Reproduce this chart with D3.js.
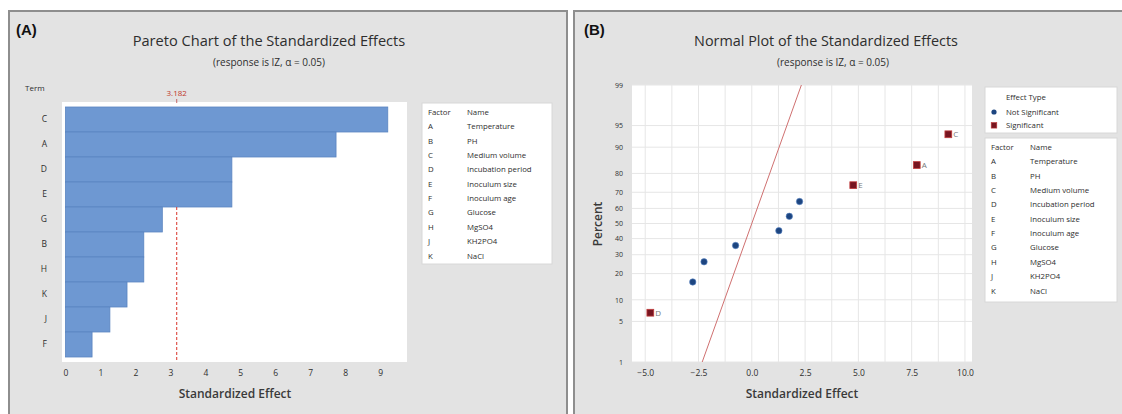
<!DOCTYPE html>
<html><head><meta charset="utf-8">
<script src="https://cdn.jsdelivr.net/npm/d3@7"></script>
<style>html,body{margin:0;padding:0;background:#fff;}svg{display:block;font-family:"Open Sans","Noto Sans",sans-serif;}</style>
</head><body><svg id="c" width="1122" height="414"></svg>
<script>
// ---- data ----
const terms = ["A","B","C","D","E","F","G","H","J","K"];
const factorNames = ["Temperature","PH","Medium volume","Incubation period","Inoculum size","Inoculum age","Glucose","MgSO4","KH2PO4","NaCl"];
const effects = [7.74, -2.24, 9.22, -4.76, 4.76, -0.76, -2.77, 2.24, 1.27, 1.76]; // signed standardized effects
const critical = 3.182;
const paretoTicks = [0,1,2,3,4,5,6,7,8,9];
const normalXTicks = [-5, -2.5, 0, 2.5, 5, 7.5, 10];
const percentTicks = [1,5,10,20,30,40,50,60,70,80,90,95,99];
const plotPercents = [6.7, 16.3, 26.0, 35.6, 45.2, 54.8, 64.4, 74.0, 83.7, 93.3]; // for effects sorted ascending
const refLineSlope = 1.0; // effect per normal-score unit

// ---- helpers ----
function probit(p){const a=[-3.969683028665376e+01,2.209460984245205e+02,-2.759285104469687e+02,1.383577518672690e+02,-3.066479806614716e+01,2.506628277459239e+00];const b=[-5.447609879822406e+01,1.615858368580409e+02,-1.556989798598866e+02,6.680131188771972e+01,-1.328068155288572e+01];const c=[-7.784894002430293e-03,-3.223964580411365e-01,-2.400758277161838e+00,-2.549732539343734e+00,4.374664141464968e+00,2.938163982698783e+00];const d=[7.784695709041462e-03,3.224671290700398e-01,2.445134137142996e+00,3.754408661907416e+00];const pl=0.02425;let q,r;if(p<pl){q=Math.sqrt(-2*Math.log(p));return (((((c[0]*q+c[1])*q+c[2])*q+c[3])*q+c[4])*q+c[5])/((((d[0]*q+d[1])*q+d[2])*q+d[3])*q+1);}if(p<=1-pl){q=p-0.5;r=q*q;return (((((a[0]*r+a[1])*r+a[2])*r+a[3])*r+a[4])*r+a[5])*q/(((((b[0]*r+b[1])*r+b[2])*r+b[3])*r+b[4])*r+1);}q=Math.sqrt(-2*Math.log(1-p));return -(((((c[0]*q+c[1])*q+c[2])*q+c[3])*q+c[4])*q+c[5])/((((d[0]*q+d[1])*q+d[2])*q+d[3])*q+1);}

const data = terms.map((t,i)=>({term:t, name:factorNames[i], eff:effects[i], abs:Math.abs(effects[i])}));
const svg = d3.select("#c");
const txt = "#2e2e2e";
const panelBg = "#e3e3e3";

// panels
svg.append("rect").attr("x",9).attr("y",11).attr("width",558).attr("height",420).attr("fill",panelBg).attr("stroke","#8e8e8e").attr("stroke-width",2);
svg.append("rect").attr("x",574).attr("y",11).attr("width",560).attr("height",420).attr("fill",panelBg).attr("stroke","#8e8e8e").attr("stroke-width",2);

// ================= Panel A: Pareto =================
const gA = svg.append("g");
gA.append("text").attr("x",16).attr("y",35).attr("font-size",15).attr("font-weight","bold").attr("font-family","Arial, Liberation Sans, sans-serif").attr("fill","#111").text("(A)");
gA.append("text").attr("x",269).attr("y",46).attr("text-anchor","middle").attr("font-size",14.6).attr("fill",txt).text("Pareto Chart of the Standardized Effects");
gA.append("text").attr("x",269).attr("y",66).attr("text-anchor","middle").attr("font-size",10).attr("fill",txt).text("(response is IZ, \u03b1 = 0.05)");

const pareto = data.slice().sort((a,b)=>d3.descending(a.abs,b.abs)||d3.ascending(a.term,b.term));
const xL = d3.scaleLinear().domain([-0.1,9.77]).range([62,407]);
const yL = d3.scaleBand().domain(pareto.map(d=>d.term)).range([102,362]).paddingInner(0).paddingOuter(0.2);

gA.append("rect").attr("x",xL.range()[0]).attr("y",102).attr("width",xL.range()[1]-xL.range()[0]).attr("height",260).attr("fill","#fff");
gA.selectAll("rect.bar").data(pareto).join("rect").attr("class","bar")
  .attr("x",xL(0)).attr("y",d=>yL(d.term)).attr("width",d=>xL(d.abs)-xL(0)).attr("height",yL.bandwidth())
  .attr("fill","#6e98d2").attr("stroke","#5a84c0").attr("stroke-width",0.8);

// critical line
gA.append("line").attr("x1",xL(critical)).attr("x2",xL(critical)).attr("y1",yL(pareto[4].term)).attr("y2",362)
  .attr("stroke","#d9342b").attr("stroke-width",1).attr("stroke-dasharray","3,2");
gA.append("line").attr("x1",xL(critical)).attr("x2",xL(critical)).attr("y1",99).attr("y2",103).attr("stroke","#b44").attr("stroke-width",0.8);
gA.append("text").attr("x",xL(critical)).attr("y",96).attr("text-anchor","middle").attr("font-size",8).attr("fill","#c0392b").text(critical.toFixed(3));

// axes
const axL = gA.append("g").attr("transform","translate(0,362)").call(d3.axisBottom(xL).tickValues(paretoTicks).tickSize(0).tickSizeOuter(0));
axL.select(".domain").remove();
axL.selectAll("text").attr("font-size",8.5).attr("fill",txt).attr("dy","1.25em").attr("font-family","Open Sans, sans-serif");
const ayL = gA.append("g").attr("transform","translate(62,0)").call(d3.axisLeft(yL).tickSize(0));
ayL.select(".domain").remove();
ayL.selectAll("text").attr("font-size",8.5).attr("fill",txt).attr("dx","-12").attr("font-family","Open Sans, sans-serif");
gA.append("text").attr("x",25).attr("y",91).attr("font-size",8).attr("fill",txt).text("Term");
gA.append("text").attr("x",235).attr("y",398).attr("text-anchor","middle").attr("font-size",12).attr("font-weight",600).attr("fill","#3a3a3a").text("Standardized Effect");

// legend A
function factorLegend(g, x0, y0, w, h){
  g.append("rect").attr("x",x0).attr("y",y0).attr("width",w).attr("height",h).attr("fill","#fff").attr("stroke","#d8d8d8");
  const rows = [{term:"Factor",name:"Name"}].concat(data);
  g.selectAll(null).data(rows).join("text").attr("x",x0+6).attr("y",(d,i)=>y0+12+i*14.35).attr("font-size",7.8).attr("fill",txt).text(d=>d.term);
  g.selectAll(null).data(rows).join("text").attr("x",x0+45).attr("y",(d,i)=>y0+12+i*14.35).attr("font-size",7.8).attr("fill",txt).text(d=>d.name);
}
factorLegend(gA, 422, 103, 130, 161);

// ================= Panel B: Normal plot =================
const gB = svg.append("g");
gB.append("text").attr("x",584).attr("y",35).attr("font-size",15).attr("font-weight","bold").attr("font-family","Arial, Liberation Sans, sans-serif").attr("fill","#111").text("(B)");
gB.append("text").attr("x",826).attr("y",46).attr("text-anchor","middle").attr("font-size",14.4).attr("fill",txt).text("Normal Plot of the Standardized Effects");
gB.append("text").attr("x",833).attr("y",66).attr("text-anchor","middle").attr("font-size",10).attr("fill",txt).text("(response is IZ, \u03b1 = 0.05)");

const xR = d3.scaleLinear().domain([-5.62,10.33]).range([632,972]);
const zR = d3.scaleLinear().domain([probit(0.01),probit(0.99)]).range([362,85]);
const yP = p=>zR(probit(p/100));

gB.append("rect").attr("x",632).attr("y",85).attr("width",340).attr("height",277).attr("fill","#fff");
// grid
gB.selectAll("line.vg").data(d3.range(-5,10.01,1.25)).join("line").attr("class","vg")
  .attr("x1",d=>xR(d)).attr("x2",d=>xR(d)).attr("y1",85).attr("y2",362).attr("stroke","#e6e6e6").attr("stroke-width",1);
gB.selectAll("line.hg").data(percentTicks).join("line").attr("class","hg")
  .attr("x1",632).attr("x2",972).attr("y1",d=>yP(d)).attr("y2",d=>yP(d)).attr("stroke","#e6e6e6").attr("stroke-width",1);

// reference line
const zLo = probit(0.01), zHi = probit(0.99);
gB.append("line").attr("x1",xR(refLineSlope*zLo)).attr("y1",zR(zLo)).attr("x2",xR(refLineSlope*zHi)).attr("y2",zR(zHi))
  .attr("stroke","#cf7070").attr("stroke-width",1);

// points
const sorted = data.slice().sort((a,b)=>d3.ascending(a.eff,b.eff)).map((d,i)=>({...d, pct:plotPercents[i], sig:d.abs>critical}));
const blue = "#1d4580", red = "#771520";
gB.selectAll("circle.ns").data(sorted.filter(d=>!d.sig)).join("circle").attr("class","ns")
  .attr("cx",d=>xR(d.eff)).attr("cy",d=>yP(d.pct)).attr("r",3.2).attr("fill",blue).attr("stroke","#5a86c6").attr("stroke-width",0.6);
gB.selectAll("rect.sg").data(sorted.filter(d=>d.sig)).join("rect").attr("class","sg")
  .attr("x",d=>xR(d.eff)-3.4).attr("y",d=>yP(d.pct)-3.4).attr("width",6.8).attr("height",6.8).attr("fill",red).attr("stroke","#c23b3b").attr("stroke-width",0.8);
gB.selectAll("text.pl").data(sorted.filter(d=>d.sig)).join("text").attr("class","pl")
  .attr("x",d=>xR(d.eff)+5).attr("y",d=>yP(d.pct)+3).attr("font-size",8).attr("fill","#777").text(d=>d.term);

// axes
const axR = gB.append("g").attr("transform","translate(0,362)").call(d3.axisBottom(xR).tickValues(normalXTicks).tickFormat(d3.format(".1f")).tickSize(0).tickSizeOuter(0));
axR.select(".domain").remove();
axR.selectAll("text").attr("font-size",8.5).attr("fill",txt).attr("dy","1.25em").attr("font-family","Open Sans, sans-serif");
const ayR = gB.append("g").attr("transform","translate(632,0)").call(d3.axisLeft(zR).tickValues(percentTicks.map(p=>probit(p/100))).tickFormat((d,i)=>percentTicks[i]).tickSize(0).tickSizeOuter(0));
ayR.select(".domain").remove();
ayR.selectAll("text").attr("font-size",7).attr("fill",txt).attr("dx","-6").attr("font-family","Open Sans, sans-serif");
gB.append("text").attr("transform","translate(602,224) rotate(-90)").attr("text-anchor","middle").attr("font-size",12).attr("font-weight",600).attr("fill","#3a3a3a").text("Percent");
gB.append("text").attr("x",802).attr("y",398).attr("text-anchor","middle").attr("font-size",12).attr("font-weight",600).attr("fill","#3a3a3a").text("Standardized Effect");

// effect type legend
const lg = gB.append("g");
lg.append("rect").attr("x",985).attr("y",87).attr("width",132).attr("height",46).attr("fill","#fff").attr("stroke","#d8d8d8");
lg.append("text").attr("x",1006).attr("y",100).attr("font-size",7.8).attr("fill",txt).text("Effect Type");
lg.append("circle").attr("cx",994).attr("cy",112).attr("r",2.6).attr("fill",blue);
lg.append("text").attr("x",1006).attr("y",115).attr("font-size",7.8).attr("fill",txt).text("Not Significant");
lg.append("rect").attr("x",991.2).attr("y",122.5).attr("width",5.6).attr("height",5.6).attr("fill",red).attr("stroke","#c23b3b").attr("stroke-width",0.6);
lg.append("text").attr("x",1006).attr("y",128).attr("font-size",7.8).attr("fill",txt).text("Significant");
factorLegend(gB, 985, 138, 132, 164);
</script></body></html>
